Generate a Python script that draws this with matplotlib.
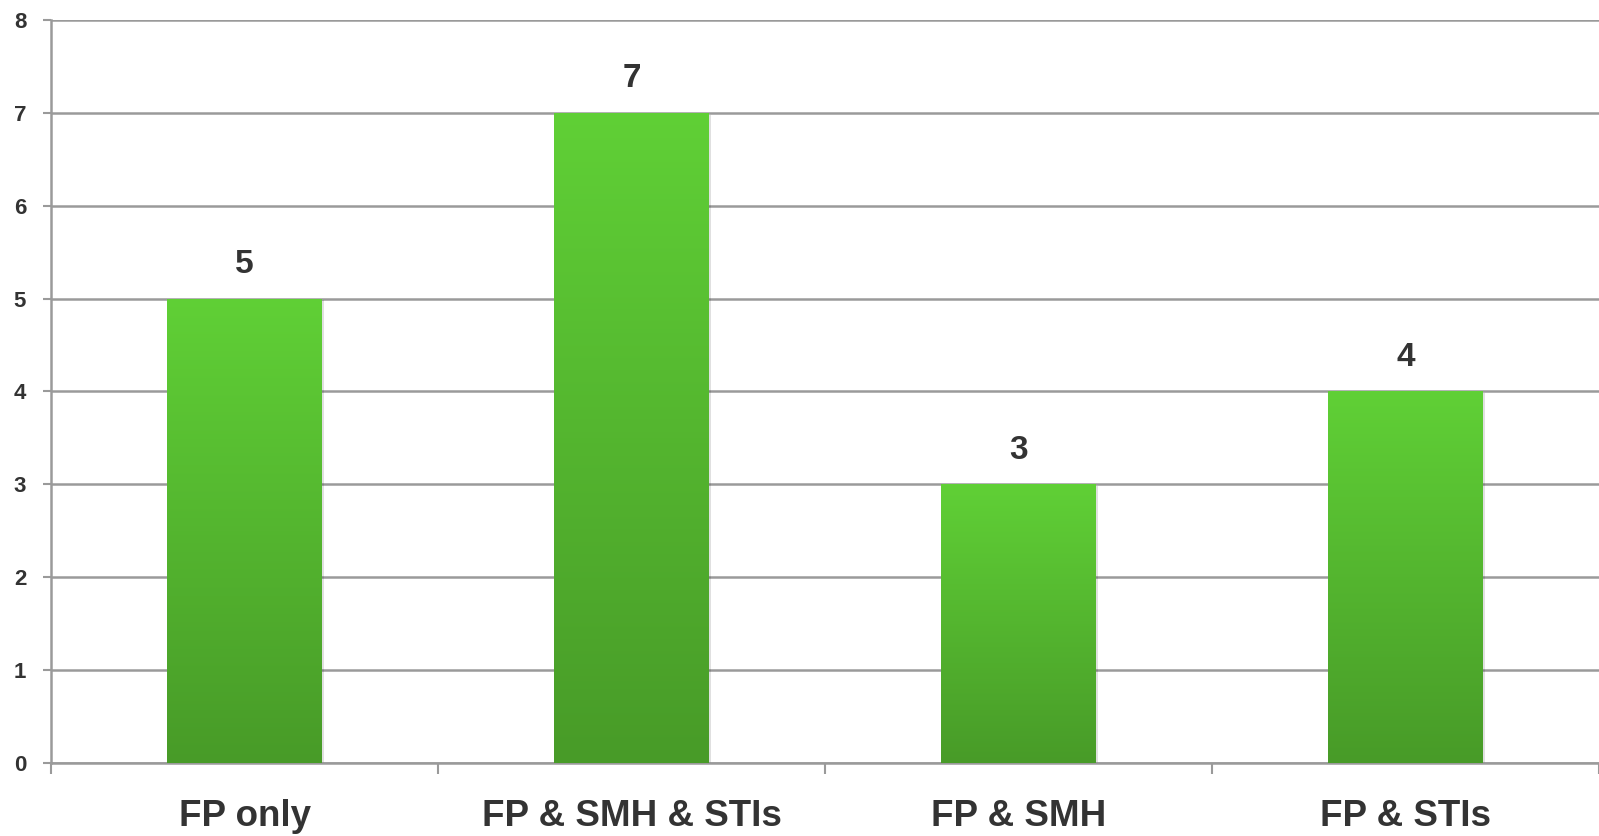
import numpy as np
import matplotlib.pyplot as plt
from matplotlib.colors import LinearSegmentedColormap
from matplotlib.patches import Rectangle

categories = ["FP only", "FP & SMH & STIs", "FP & SMH", "FP & STIs"]
counts = [5, 7, 3, 4]
y_ticks = [0, 1, 2, 3, 4, 5, 6, 7, 8]

grid_color = "#9a9a9a"
text_color = "#333333"
green = LinearSegmentedColormap.from_list("green", ["#489b28", "#60d036"])

fig = plt.figure(figsize=(15.99, 8.36), dpi=100)
ax = fig.add_axes([0.032, 0.0873, 0.968, 0.889])

x = np.arange(len(categories))
width = 0.4

# soft drop shadow behind each bar
for xi, v in zip(x, counts):
    ax.add_patch(Rectangle((xi - width / 2 + 0.006, -0.02), width, v,
                           facecolor="#000000", alpha=0.12, edgecolor="none", zorder=2))

bars = ax.bar(x, counts, width=width, color="none", edgecolor="none", zorder=3)

# vertical gradient fill, clipped to each bar
grad = np.linspace(0, 1, 256).reshape(-1, 1)
for bar in bars:
    x0, y0 = bar.get_x(), bar.get_y()
    w, h = bar.get_width(), bar.get_height()
    im = ax.imshow(grad, cmap=green, origin="lower", aspect="auto",
                   extent=[x0, x0 + w, y0, y0 + h], zorder=3)
    im.set_clip_path(bar)

for xi, v in zip(x, counts):
    ax.text(xi, v + 0.2, str(v), ha="center", va="bottom",
            fontsize=24, fontweight="bold", color=text_color,
            family=["Liberation Sans", "DejaVu Sans"])

ax.set_xlim(-0.5, len(categories) - 0.5)
ax.set_ylim(0, 8)
ax.set_yticks(y_ticks)
ax.set_yticklabels([str(t) for t in y_ticks], fontsize=16, fontweight="bold",
                   color=text_color, family=["Liberation Sans", "DejaVu Sans"])
ax.yaxis.grid(True, color=grid_color, linewidth=1.8)
ax.set_axisbelow(True)

ax.set_xticks(x)
ax.set_xticklabels(categories, fontsize=26.5, fontweight="bold", color=text_color,
                   family=["Liberation Sans", "DejaVu Sans"])
ax.tick_params(axis="x", length=0, pad=26)
# category separator ticks
ax.set_xticks(np.arange(len(categories) + 1) - 0.5, minor=True)
ax.tick_params(axis="x", which="minor", length=8, width=1.5, color=grid_color, direction="out")
ax.tick_params(axis="y", length=6, width=1.5, color=grid_color, pad=12)

for side in ["top", "right"]:
    ax.spines[side].set_visible(False)
for side in ["left", "bottom"]:
    ax.spines[side].set_color(grid_color)
    ax.spines[side].set_linewidth(1.8)

fig.savefig("out.png", dpi=100)
